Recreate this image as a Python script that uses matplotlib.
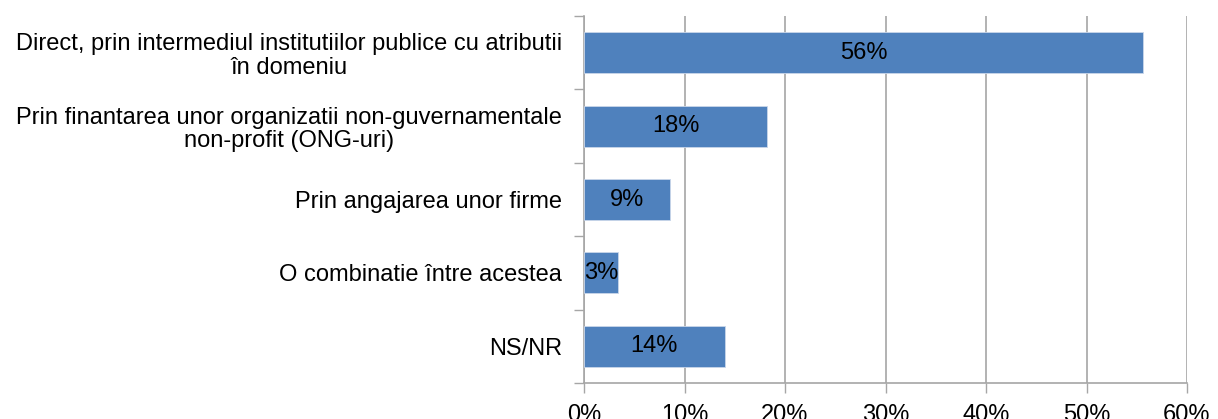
import matplotlib.pyplot as plt
import numpy as np
from matplotlib.ticker import MultipleLocator, PercentFormatter

plt.rcParams['font.family'] = ['Liberation Sans', 'DejaVu Sans']

categories = [
    'Direct, prin intermediul institutiilor publice cu atributii\nîn domeniu',
    'Prin finantarea unor organizatii non-guvernamentale\nnon-profit (ONG-uri)',
    'Prin angajarea unor firme',
    'O combinatie între acestea',
    'NS/NR',
]
values = [55.6, 18.2, 8.6, 3.4, 14.0]
value_labels = ['56%', '18%', '9%', '3%', '14%']

bar_color = '#4F81BD'
grid_color = '#A6A6A6'
fs = 17

fig = plt.figure(figsize=(12.18, 4.19), dpi=100)
ax = fig.add_axes([584 / 1218, 1 - 383 / 419, (1187 - 584) / 1218, (383 - 16) / 419])

y = np.arange(len(categories))
bars = ax.barh(y, values, height=0.56, color=bar_color, edgecolor='#C9D6EA', linewidth=0.6, zorder=3)
for b, lab in zip(bars, value_labels):
    ax.text(b.get_width() / 2, b.get_y() + b.get_height() / 2, lab,
            ha='center', va='center', fontsize=fs, color='black', zorder=4)

ax.set_ylim(len(categories) - 0.5, -0.5)
ax.set_xlim(0, 60)
ax.xaxis.set_major_locator(MultipleLocator(10))
ax.xaxis.set_major_formatter(PercentFormatter(decimals=0))

ax.set_yticks(y)
ax.set_yticklabels(categories, fontsize=fs, ha='right', multialignment='center', linespacing=1.1)
ax.set_yticks(np.arange(-0.5, len(categories)), minor=True)
ax.tick_params(axis='y', which='major', length=0, pad=16)
ax.tick_params(axis='y', which='minor', length=7, color=grid_color, width=1)
ax.tick_params(axis='x', length=7, color=grid_color, width=1, labelsize=fs, pad=8)

ax.grid(axis='x', color=grid_color, linewidth=1.2, zorder=0)
for s in ['top', 'right']:
    ax.spines[s].set_visible(False)
for s in ['left', 'bottom']:
    ax.spines[s].set_color(grid_color)
    ax.spines[s].set_linewidth(1.2)

fig.savefig('out.png', dpi=100)
